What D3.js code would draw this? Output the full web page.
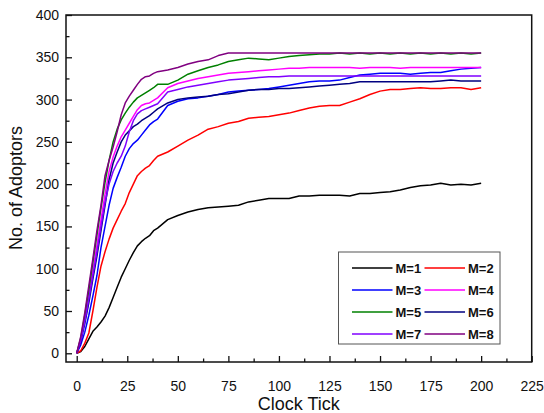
<!DOCTYPE html>
<html><head><meta charset="utf-8">
<script src="https://cdn.jsdelivr.net/npm/d3@7"></script>
<style>body{margin:0;background:#fff}svg{display:block}text{font-family:"Liberation Sans",Arial,sans-serif}</style>
</head><body><svg id="c" width="544" height="413"></svg>
<script>
const ticks = [0,2,4,6,8,10,12,14,16,18,20,22,24,26,28,30,32,34,36,38,40,
  45,50,55,60,65,70,75,80,85,90,95,100,105,110,115,120,125,130,135,140,145,150,155,160,165,170,175,180,185,190,195,200];
const m1 = [0,2,8,17,26,31,37,44,54,66,78,90,100,110,119,127,132,136,139,145,148,
  158,163,167,170,172,173,174,175,179,181,183,183,183,186,186,187,187,187,186,189,189,190,191,193,196,198,199,201,199,200,199,201];
const m2 = [0,3,12,24,50,78,103,120,135,148,158,168,177,190,200,210,215,219,222,228,233,
  238,245,252,258,265,268,272,274,278,279,280,282,284,287,290,292,293,293,297,301,306,310,312,312,313,314,313,313,314,314,312,314];
const m3 = [0,10,25,45,68,92,125,150,175,195,208,220,233,242,248,252,258,264,270,274,277,
  293,298,301,302,304,306,309,310,311,312,313,315,317,319,321,322,322,323,326,329,330,331,331,331,330,331,332,332,334,336,337,338];
const m4 = [0,16,40,68,98,128,158,188,215,232,245,256,264,272,280,288,293,295,296,299,302,
  314,319,322,325,327,329,331,332,333,334,335,336,337,337,338,338,338,338,338,337,338,338,338,337,338,338,338,338,338,338,338,338];
const m5 = [0,18,45,75,108,140,172,202,228,250,265,276,284,291,297,302,305,308,311,314,318,
  318,323,330,334,338,341,345,347,349,348,347,349,351,352,353,354,354,355,354,355,354,355,354,355,354,355,354,355,354,355,354,355];
const m6 = [0,14,35,60,88,115,145,175,205,225,238,250,258,263,268,271,275,278,281,285,289,
  296,300,302,303,304,306,307,309,311,312,312,313,313,314,315,316,317,318,319,321,321,321,321,321,321,321,321,322,323,322,322,322];
const m7 = [0,15,38,64,92,120,150,178,200,215,225,233,245,262,275,283,287,289,291,293,295,
  309,312,315,317,319,321,323,324,325,326,327,327,328,328,328,328,328,328,328,328,328,328,328,328,328,328,328,328,328,328,328,328];
const m8 = [0,20,48,80,112,145,175,210,228,244,262,282,296,304,311,318,324,327,328,331,333,
  335,338,342,345,347,352,355,355,355,355,355,355,355,355,355,355,355,355,355,355,355,355,355,355,355,355,355,355,355,355,355,355];
const seriesNames = ["M=1","M=2","M=3","M=4","M=5","M=6","M=7","M=8"];
const seriesValues = [m1,m2,m3,m4,m5,m6,m7,m8];
const colors = ["#000000","#ff0000","#0000ff","#ff00ff","#008000","#000080","#8000ff","#800080"];
const xTicks = [0,25,50,75,100,125,150,175,200,225];
const yTicks = [0,50,100,150,200,250,300,350,400];

const svg = d3.select("#c");
const L=66, R=531.7, T=15, B=362;
const x = d3.scaleLinear().domain([-5.3,225]).range([L,R]);
const y = d3.scaleLinear().domain([-10.3,400]).range([B,T]);

// lines
const line = d3.line().x((d,i)=>x(ticks[i])).y(d=>y(d));
const g = svg.append("g");
seriesValues.forEach((vals,k)=>{
  g.append("path").datum(vals).attr("d",line).attr("fill","none")
   .attr("stroke",colors[k]).attr("stroke-width",1.5).attr("stroke-linejoin","round");
});

// frame
svg.append("rect").attr("x",L).attr("y",T).attr("width",R-L).attr("height",B-T)
  .attr("fill","none").attr("stroke","#111").attr("stroke-width",1.5);

// x axis ticks (inward)
const xa = svg.append("g").attr("transform",`translate(0,${B})`);
xa.call(d3.axisBottom(x).tickValues(d3.range(12.5,225,25)).tickSize(-3.5).tickFormat(""));
xa.call(g=>g.selectAll(".domain").remove());
const xb = svg.append("g").attr("transform",`translate(0,${B})`);
xb.call(d3.axisBottom(x).tickValues(xTicks).tickSize(-6).tickPadding(19).tickFormat(d3.format("d")));
xb.select(".domain").remove();
xb.selectAll("text").attr("font-size",14).attr("fill","#111").attr("font-family","Liberation Sans, Arial, sans-serif");
svg.selectAll(".tick line").attr("stroke","#111").attr("stroke-width",1.3);

const ya = svg.append("g").attr("transform",`translate(${L},0)`);
ya.call(d3.axisLeft(y).tickValues(d3.range(25,400,50)).tickSize(-3.5).tickFormat(""));
ya.select(".domain").remove();
const yb = svg.append("g").attr("transform",`translate(${L},0)`);
yb.call(d3.axisLeft(y).tickValues(yTicks).tickSize(-6).tickPadding(7).tickFormat(d3.format("d")));
yb.select(".domain").remove();
yb.selectAll("text").attr("font-size",14).attr("fill","#111").attr("font-family","Liberation Sans, Arial, sans-serif");
svg.selectAll(".tick line").attr("stroke","#111").attr("stroke-width",1.3);

// titles
svg.append("text").attr("x",(L+R)/2).attr("y",410).attr("text-anchor","middle")
  .attr("font-size",18).attr("fill","#111").text("Clock Tick");
svg.append("text").attr("transform","translate(21.5,188) rotate(-90)").attr("text-anchor","middle")
  .attr("font-size",18).attr("fill","#111").text("No. of Adoptors");

// legend
const lg = svg.append("g");
lg.append("rect").attr("x",338.5).attr("y",252).attr("width",161.5).attr("height",92)
  .attr("fill","#fff").attr("stroke","#555").attr("stroke-width",1);
seriesNames.forEach((n,k)=>{
  const col = k%2, row = Math.floor(k/2);
  const lx = col===0 ? 352 : 424.5, yy = 268 + row*22;
  lg.append("line").attr("x1",lx).attr("x2",lx+40.5).attr("y1",yy).attr("y2",yy)
    .attr("stroke",colors[k]).attr("stroke-width",1.5);
  lg.append("text").attr("x",lx+43.5).attr("y",yy+4.7).attr("font-size",13)
    .attr("font-weight","bold").attr("fill","#111").text(n);
});
</script></body></html>
